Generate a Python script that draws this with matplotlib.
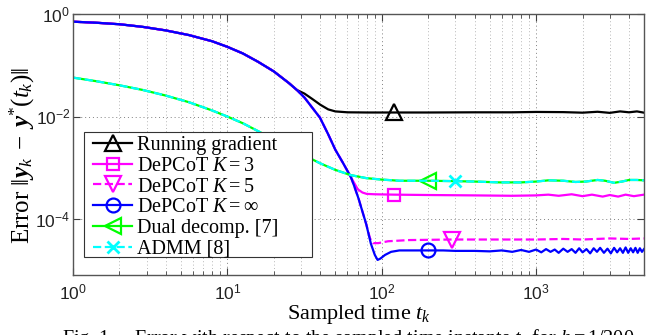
import numpy as np
import matplotlib
matplotlib.use('Agg')
import matplotlib.pyplot as plt
from matplotlib.patches import Rectangle
from matplotlib.ticker import FixedLocator, NullLocator, LogLocator, FuncFormatter

plt.rcParams['font.family'] = ['Liberation Serif', 'DejaVu Serif']
plt.rcParams['mathtext.fontset'] = 'custom'
plt.rcParams['mathtext.rm'] = 'Liberation Serif'
plt.rcParams['mathtext.it'] = 'Liberation Serif:italic'
plt.rcParams['mathtext.bf'] = 'Liberation Serif:bold'
plt.rcParams['mathtext.bfit'] = 'Liberation Serif:italic:bold'
plt.rcParams['mathtext.sf'] = 'Liberation Sans'

# ---- data ----
# common start (all primal methods coincide here)
t_common = [1, 1.41, 2.0, 2.82, 3.98, 5.62, 7.94, 10, 12.6, 15.8, 20, 25.1, 28.2]
y_common = [0.708, 0.676, 0.631, 0.562, 0.479, 0.389, 0.295, 0.229, 0.170, 0.117, 0.0759, 0.0447, 0.033]

# steep drop of DePCoT (shared by K=3, 5, inf until they separate)
t_drop = [31.6, 39.8, 45, 50.1, 56, 63.1, 66, 70.8, 75, 79.4]
y_drop = [0.0234, 9.5e-3, 4.5e-3, 2.24e-3, 1.26e-3, 6.6e-4, 4.6e-4, 2.5e-4, 1.4e-4, 7.9e-5]

# K = inf after the drop
t_inf_end = [85.1, 90.2, 94, 98, 105, 115, 130, 160, 200, 250, 300, 400, 500, 600, 700, 800,
             900, 1000, 1080, 1160, 1240, 1320, 1400, 1500, 1600, 1700, 1800, 1900, 2000, 2120,
             2240, 2360, 2480, 2600, 2750, 2900, 3050, 3200, 3350, 3500, 3650, 3800, 3950, 4100,
             4250, 4400, 4550, 4700, 4850, 5000]
y_inf_end = [3.3e-5, 2.0e-5, 1.6e-5, 1.7e-5, 2.0e-5, 2.3e-5, 2.45e-5, 2.45e-5, 2.45e-5, 2.45e-5,
             2.4e-5, 2.4e-5, 2.35e-5, 2.45e-5, 2.3e-5, 2.5e-5, 2.3e-5, 2.55e-5, 2.25e-5, 2.6e-5,
             2.3e-5, 2.55e-5, 2.2e-5, 2.65e-5, 2.3e-5, 2.6e-5, 2.2e-5, 2.7e-5, 2.25e-5, 2.6e-5,
             2.15e-5, 2.7e-5, 2.3e-5, 2.75e-5, 2.2e-5, 2.65e-5, 2.15e-5, 2.75e-5, 2.25e-5, 2.7e-5,
             2.2e-5, 2.8e-5, 2.2e-5, 2.7e-5, 2.25e-5, 2.75e-5, 2.2e-5, 2.7e-5, 2.3e-5, 2.6e-5]

# K = 3 after leaving the drop (t > 63)
t_k3_end = [66, 70, 75, 80, 90, 120, 200, 400, 700, 1000, 1200, 1400, 1700, 2000, 2300, 2700,
            3000, 3400, 3800, 4300, 5000]
y_k3_end = [5.2e-4, 3.8e-4, 3.3e-4, 3.1e-4, 3.05e-4, 3.0e-4, 2.95e-4, 2.9e-4, 2.85e-4, 2.9e-4,
            3.0e-4, 2.85e-4, 3.05e-4, 2.8e-4, 3.0e-4, 2.75e-4, 2.95e-4, 2.75e-4, 3.0e-4, 2.8e-4, 3.0e-4]

# K = 5 after leaving the drop (t > 79)
t_k5_end = [84, 88, 95, 110, 150, 285, 500, 1000, 1500, 2000, 3000, 4000, 5000]
y_k5_end = [4.2e-5, 3.4e-5, 3.4e-5, 3.7e-5, 3.9e-5, 4.0e-5, 4.0e-5, 4.0e-5, 4.1e-5, 4.0e-5,
            4.2e-5, 4.1e-5, 4.2e-5]

# running gradient after leaving the common start
t_grad_end = [31.6, 35.5, 40, 45, 50, 60, 80, 120, 200, 400, 700, 1000, 1500, 2000, 2500, 3000,
              3500, 4000, 4500, 5000]
y_grad_end = [0.028, 0.022, 0.017, 0.0138, 0.0126, 0.0121, 0.0120, 0.0120, 0.0120, 0.0121,
              0.0121, 0.0123, 0.0122, 0.0119, 0.0124, 0.0118, 0.0126, 0.0121, 0.0126, 0.0119]

# dual decomposition / ADMM (coincide)
t_dual = [1, 1.41, 2.0, 2.82, 3.98, 5.62, 7.94, 10, 12.6, 15.8, 20, 25.1, 31.6, 39.8, 50.1, 63.1,
          79.4, 100, 130, 200, 300, 400, 580, 800, 1000, 1200, 1500, 1800, 2100, 2500, 2800, 3200,
          3600, 4000, 4500, 5000]
y_dual = [0.0575, 0.049, 0.0407, 0.0331, 0.0257, 0.0191, 0.0132, 0.0100, 7.4e-3, 5.2e-3, 3.6e-3,
          2.5e-3, 1.74e-3, 1.23e-3, 9.1e-4, 7.2e-4, 6.3e-4, 5.9e-4, 5.6e-4, 5.6e-4, 5.5e-4, 5.4e-4,
          5.2e-4, 5.2e-4, 5.4e-4, 5.7e-4, 5.6e-4, 5.3e-4, 5.4e-4, 5.8e-4, 5.6e-4, 5.1e-4, 5.4e-4,
          5.8e-4, 5.8e-4, 5.7e-4]
t_admm = list(t_dual)
y_admm = list(y_dual)

# assemble the series
t_grad = t_common + t_grad_end
y_grad = y_common + y_grad_end
t_k3 = t_common + t_drop[:6] + t_k3_end
y_k3 = y_common + y_drop[:6] + y_k3_end
t_k5 = t_common + t_drop + t_k5_end
y_k5 = y_common + y_drop + y_k5_end
t_inf = t_common + t_drop + t_inf_end
y_inf = y_common + y_drop + y_inf_end

W, H = 665, 335
fig = plt.figure(figsize=(W/100, H/100), dpi=100)
ax = fig.add_axes([73/W, 60/H, 571/W, 261/H])

lw = 1.6
ax.plot(t_grad, y_grad, '-', color='k', lw=lw, marker='^', ms=12, mfc='none', mew=1.6,
        markevery=[t_grad.index(120)], label='Running gradient')
ax.plot(t_k3, y_k3, '-', color='#ff00ff', lw=lw, marker='s', ms=9, mfc='none', mew=1.6,
        markevery=[t_k3.index(120)], label='DePCoT $K{=}3$')
ax.plot(t_k5, y_k5, '--', color='#ff00ff', lw=lw, marker='v', ms=12, mfc='none', mew=1.6,
        markevery=[t_k5.index(285)], label='DePCoT $K{=}5$')
ax.plot(t_inf, y_inf, '-', color='#0000ff', lw=lw, marker='o', ms=10, mfc='none', mew=1.6,
        markevery=[t_inf.index(200)], label=r'DePCoT $K{=}\infty$')
ax.plot(t_dual, y_dual, '-', color='#00ff00', lw=lw, marker='<', ms=12, mfc='none', mew=1.6,
        markevery=[t_dual.index(200)], label='Dual decomp. [7]')
ax.plot(t_admm, y_admm, '--', color='#00ffff', lw=lw, marker='x', ms=8, mfc='none', mew=2,
        markevery=[t_admm.index(300)], label='ADMM [8]')

ax.set_xscale('log')
ax.set_yscale('log')
ax.set_xlim(1, 5000)
ax.set_ylim(10**-5.09, 1)

ax.yaxis.set_major_locator(FixedLocator([1e-4, 1e-2, 1e0]))
ax.yaxis.set_minor_locator(NullLocator())
ax.xaxis.set_major_locator(FixedLocator([1e0, 1e1, 1e2, 1e3]))
ax.xaxis.set_minor_locator(LogLocator(base=10, subs=np.arange(2, 10), numticks=20))

fmt = FuncFormatter(lambda v, p: r'$\mathsf{10^{%d}}$' % int(round(np.log10(v))))
ax.xaxis.set_major_formatter(fmt)
ax.yaxis.set_major_formatter(fmt)
ax.xaxis.set_minor_formatter(FuncFormatter(lambda v, p: ''))

ax.tick_params(which='both', direction='in', top=True, right=True, colors='#404040',
               labelcolor='#222222', labelsize=12.5)
ax.tick_params(which='major', length=5, width=0.8)
ax.tick_params(which='minor', length=3, width=0.6)
ax.tick_params(axis='x', pad=6)
ax.tick_params(axis='y', pad=2)

ax.grid(True, which='major', axis='both', linestyle=(0, (1, 3)), color='#808080', lw=0.7)
ax.grid(True, which='minor', axis='x', linestyle=(0, (1, 3)), color='#a0a0a0', lw=0.6)
for s in ax.spines.values():
    s.set_color('#555555')
    s.set_linewidth(1.0)

ax.set_xlabel('Sampled time $t_k$', fontsize=16, labelpad=0)
fig.text(22/W, 1 - 155/H, r'Error $\|\boldsymbol{y}_k\;-\;\boldsymbol{y}^{*}(t_k)\|$',
         fontsize=18, rotation=90, ha='center', va='center')

# legend box (MATLAB style, extra room on the right)
ax.add_patch(Rectangle(((84-73)/571, (275-257)/261), (312-84)/571, (257-132)/261,
                       transform=ax.transAxes, facecolor='white', edgecolor='#333333',
                       lw=0.8, zorder=4))
leg = ax.legend(loc='upper left', bbox_to_anchor=((89-73)/571, (275-132)/261), borderaxespad=0,
                fontsize=14.5, frameon=False, handlelength=1.95, handletextpad=0.25,
                labelspacing=0.08, borderpad=0.2)
leg.set_zorder(5)

fig.text(62/W, -9/H, r'Fig. 1.    Error with respect to the sampled time instants $t_k$ for $h=1/200$',
         fontsize=14.5, va='baseline', ha='left')

fig.savefig('out.png', dpi=100)
